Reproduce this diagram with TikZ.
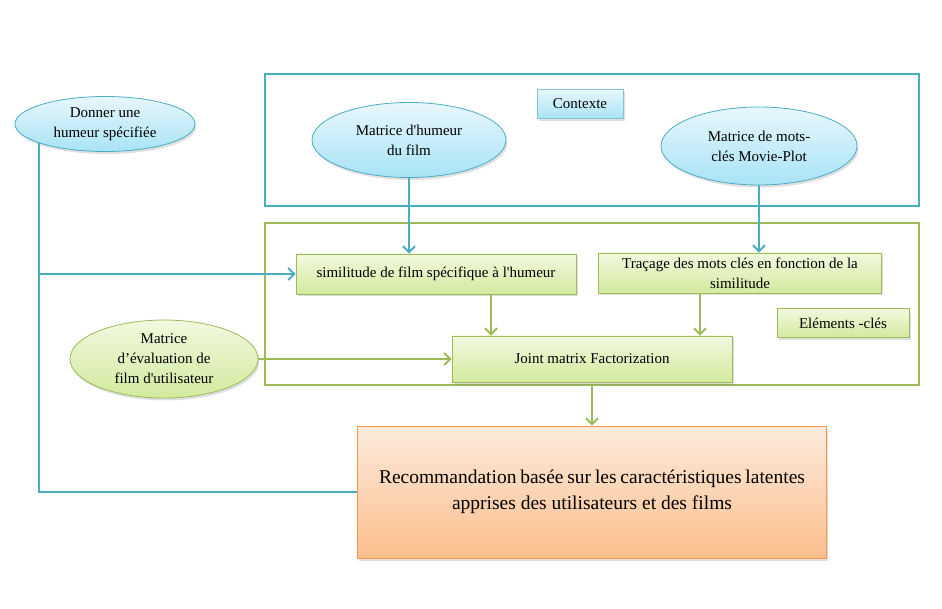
\documentclass[tikz,border=0pt]{standalone}
\usepackage{fontspec}
\setmainfont{Liberation Serif}
\usetikzlibrary{shapes.geometric,arrows.meta,shadows}
\definecolor{recBlue}{HTML}{4BACC6}
\definecolor{recBlueTop}{HTML}{E8F7FC}
\definecolor{recBlueBot}{HTML}{A8E3F6}
\definecolor{recGreen}{HTML}{9BBB59}
\definecolor{recGreenTop}{HTML}{F2F9DF}
\definecolor{recGreenBot}{HTML}{D2EA9E}
\definecolor{recOrange}{HTML}{F79646}
\definecolor{recOrangeTop}{HTML}{FDEBDD}
\definecolor{recOrangeBot}{HTML}{FBBE8C}
\newcommand{\recText}{\fontsize{15}{20}\selectfont}
\newcommand{\recBig}{\fontsize{19.5}{26}\selectfont}

\begin{document}
\begin{tikzpicture}[x=1pt,y=-1pt,
  recShadow/.style={drop shadow={opacity=0.25,shadow xshift=1.5pt,shadow yshift=-2.5pt}},
  recBlueEll/.style={ellipse, draw=recBlue, line width=0.8pt, top color=recBlueTop, bottom color=recBlueBot, recShadow, inner sep=0pt, align=center, font=\recText},
  recGreenEll/.style={ellipse, draw=recGreen, line width=0.8pt, top color=recGreenTop, bottom color=recGreenBot, recShadow, inner sep=0pt, align=center, font=\recText},
  recGreenBox/.style={rectangle, draw=recGreen, line width=0.8pt, top color=recGreenTop, bottom color=recGreenBot, recShadow, inner sep=0pt, align=center, font=\recText},
  recBlueBox/.style={rectangle, draw=recBlue!70, line width=0.8pt, top color=recBlueTop, bottom color=recBlueBot, recShadow, inner sep=0pt, align=center, font=\recText},
  recFrame/.style={rectangle, draw, line width=1.5pt, inner sep=0pt},
  recBlueArrow/.style={draw=recBlue, line width=2pt, -{Straight Barb[length=6pt,width=12pt]}},
  recGreenArrow/.style={draw=recGreen, line width=2pt, -{Straight Barb[length=6pt,width=12pt]}},
  recBlueLine/.style={draw=recBlue, line width=2pt}]
\useasboundingbox (0,0) rectangle (942,609);
\node[recFrame, draw=recBlue, minimum width=654pt, minimum height=132pt] (ctxframe) at (592,140) {};
\node[recFrame, draw=recGreen, minimum width=654pt, minimum height=162pt] (keyframe) at (592,304) {};
\node[recBlueBox, minimum width=86pt, minimum height=29pt] (contexte) at (580,104) {Contexte};
\node[recBlueEll, minimum width=194pt, minimum height=75pt] (moodmat) at (409,140) {Matrice d\textquotesingle humeur\\du film};
\node[recBlueEll, minimum width=196pt, minimum height=78pt] (plotmat) at (759,146) {Matrice de mots-\\clés Movie-Plot};
\node[recBlueEll, minimum width=180pt, minimum height=55pt] (humeur) at (105,124) {Donner une\\humeur spécifiée};
\node[recGreenBox, minimum width=280pt, minimum height=40pt] (simi) at (436,274) {similitude de film spécifique à l\textquotesingle humeur};
\node[recGreenBox, minimum width=283pt, minimum height=40pt] (tracage) at (740,273) {Traçage des mots clés en fonction de la\\similitude};
\node[recGreenBox, minimum width=132pt, minimum height=29pt] (elements) at (843,323) {Eléments -clés};
\node[recGreenBox, minimum width=280pt, minimum height=46pt] (joint) at (592,359) {Joint matrix Factorization};
\node[recGreenEll, minimum width=188pt, minimum height=78pt] (evalmat) at (164,359) {Matrice\\d’évaluation de\\film d\textquotesingle utilisateur};
\node[rectangle, draw=recOrange, line width=0.8pt, top color=recOrangeTop, bottom color=recOrangeBot, recShadow, minimum width=469pt, minimum height=132pt, align=center, font=\recBig] (reco) at (592,492) {\makebox[426pt][s]{Recommandation basée sur les caractéristiques latentes}\\apprises des utilisateurs et des films};
\draw[recBlueLine] (humeur.196) |- (reco.west);
\draw[recBlueArrow] (humeur.196 |- simi.west) -- (simi.west);
\draw[recBlueArrow] (moodmat.south) -- (moodmat.south |- simi.north);
\draw[recBlueArrow] (plotmat.south) -- (plotmat.south |- tracage.north);
\draw[recGreenArrow] ([xshift=55pt]simi.south) -- ([xshift=55pt]simi.south |- joint.north);
\draw[recGreenArrow] ([xshift=-40pt]tracage.south) -- ([xshift=-40pt]tracage.south |- joint.north);
\draw[recGreenArrow] (evalmat.east) -- (evalmat.east -| joint.west);
\draw[recGreenArrow] (reco.north |- keyframe.south) -- (reco.north);
\end{tikzpicture}
\end{document}
